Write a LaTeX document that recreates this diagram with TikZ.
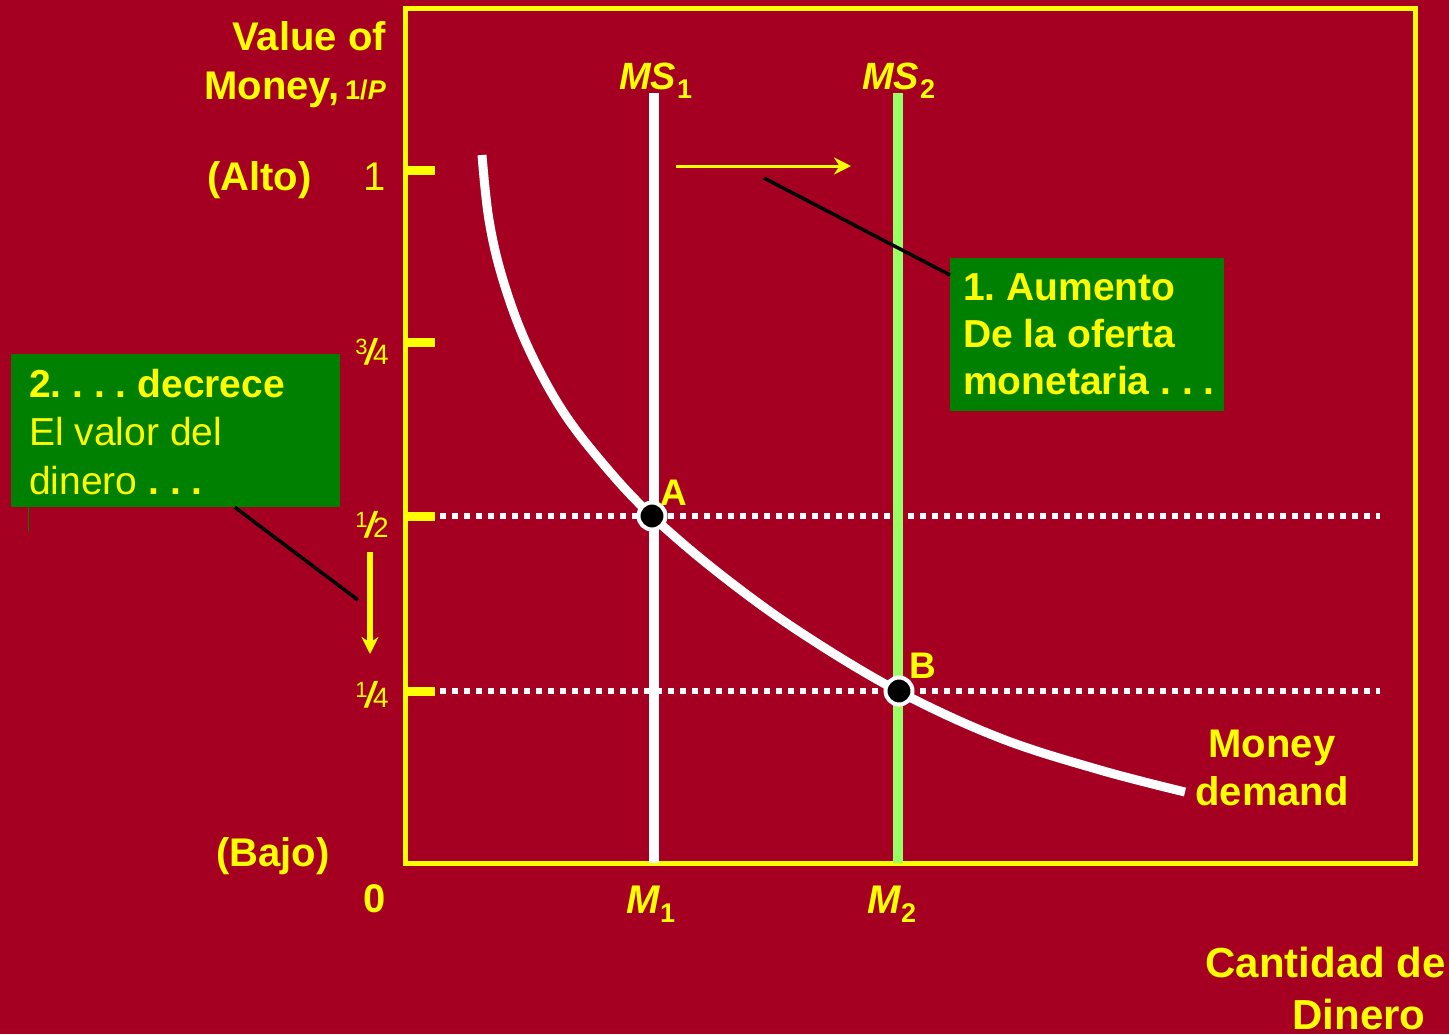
\documentclass[tikz,border=0pt]{standalone}
\usepackage{fontspec}
\setmainfont{Liberation Sans}
\usetikzlibrary{arrows.meta}
\definecolor{bg}{HTML}{A50021}
\definecolor{yel}{HTML}{FFFF00}
\definecolor{gbox}{HTML}{008000}
\definecolor{lgreen}{HTML}{99FF66}
\frenchspacing
\newcommand\fsz[2]{\fontsize{#1}{#2}\selectfont}
\newcommand\myfrac[2]{{\fsz{22}{22}\raisebox{10pt}{#1}}\kern-2pt{\fsz{36}{36}\bfseries\itshape/}\kern-2.5pt{\fsz{28}{28}#2}}
\begin{document}
\begin{tikzpicture}[x=1pt,y=-1pt,
  lbl/.style={text=yel,font=\fsz{40}{47}\bfseries,inner sep=0pt},
  lblr/.style={text=yel,font=\fsz{40}{48.5},inner sep=0pt},
  tick/.style={draw=yel,line width=9pt},
  dots/.style={draw=white,line width=6pt,dash pattern=on 6pt off 6pt},
  ptdot/.style={circle,fill=black,draw=white,line width=4pt,minimum size=27pt,inner sep=0pt},
  gbx/.style={fill=gbox,inner sep=0pt,anchor=north west},
  blk/.style={draw=black,line width=3.5pt},
  yarrow/.style={draw=yel,-{Stealth[length=17pt,width=17pt]}}]
\useasboundingbox[fill=bg] (0,0) rectangle (1449,1034);
% frame
\draw[yel,line width=5pt] (405,8) rectangle (1415,863);
% ticks
\foreach \yy in {170,342,516,691} \draw[tick] (405,\yy) -- (435,\yy);
% dotted lines
\coordinate (hA) at (440,516); \coordinate (hAe) at (1380,516);
\coordinate (hB) at (440,691); \coordinate (hBe) at (1380,691);
\draw[dots] (hA) -- (hAe);
\draw[dots] (hB) -- (hBe);
% supply lines
\coordinate (ms1t) at (654,93); \coordinate (ms1b) at (654,863);
\coordinate (ms2t) at (898,93); \coordinate (ms2b) at (898,863);
\draw[white,line width=10pt] (ms1t) -- (ms1b);
\draw[lgreen,line width=10pt] (ms2t) -- (ms2b);
% demand curve
\draw[white,line width=9pt] plot[smooth,tension=0.6] coordinates {(482,155) (489,220) (503,280) (527,345) (562,410) (605,466) (652,516) (720,574) (800,632) (898,691) (1000,738) (1100,770) (1185,792)};
% points
\node[ptdot] (A) at (652,516) {};
\node[ptdot] (B) at (899,691) {};
\node[lbl,font=\fsz{37}{37}\bfseries,anchor=base west] (Al) at (660,505) {A};
\node[lbl,font=\fsz{37}{37}\bfseries,anchor=base west] (Bl) at (909,678) {B};
% axis labels
\node[lbl,anchor=base east] (v1) at (386,50) {Value of};
\node[lbl,anchor=base east] (v2) at (386,99) {Money,\kern6pt{\fsz{27}{27}1/\textit{P}}};
\node[lbl,anchor=base west] (alto) at (207,190) {(Alto)};
\node[lblr,anchor=base] (one) at (375,190) {1};
\node[lbl,anchor=base west] (bajo) at (216,866) {(Bajo)};
\node[lbl,anchor=base] (zero) at (375,912) {0};
\node[text=yel,inner sep=0pt,anchor=base] (f34) at (372,364) {\myfrac{3}{4}};
\node[text=yel,inner sep=0pt,anchor=base] (f12) at (372,537) {\myfrac{1}{2}};
\node[text=yel,inner sep=0pt,anchor=base] (f14) at (372,707) {\myfrac{1}{4}};
\node[lbl,font=\fsz{38}{38}\bfseries,anchor=base west] (ms1) at (619,89) {\textit{MS}\kern1pt\raisebox{-9pt}{\fsz{27}{27}1}};
\node[lbl,font=\fsz{38}{38}\bfseries,anchor=base west] (ms2) at (862,89) {\textit{MS}\kern1pt\raisebox{-9pt}{\fsz{27}{27}2}};
\node[lbl,anchor=base west] (m1) at (626,913) {\textit{M}\kern0pt\raisebox{-9pt}{\fsz{27}{27}1}};
\node[lbl,anchor=base west] (m2) at (867,913) {\textit{M}\kern0pt\raisebox{-9pt}{\fsz{27}{27}2}};
\node[lbl,anchor=base] (md1) at (1272,757) {Money};
\node[lbl,anchor=base] (md2) at (1272,805) {demand};
\node[lbl,font=\fsz{42}{42}\bfseries,anchor=base east] (cd1) at (1446,977) {Cantidad de};
\node[lbl,font=\fsz{42}{42}\bfseries,anchor=base] (cd2) at (1359,1029) {Dinero};
% box 1
\node[gbx,minimum width=274pt,minimum height=153pt] (box1) at (950,258) {};
\node[lbl,font=\fsz{39}{47}\bfseries,anchor=base west,align=left] (t1) at (963,394) {1. Aumento\\De la oferta\\monetaria . . .};
\coordinate (c1) at (764,178);
\draw[blk] (c1) -- ([yshift=-17pt]box1.north west);
\coordinate (a1s) at (676,166); \coordinate (a1e) at (851,166);
\draw[yarrow,line width=3pt] (a1s) -- (a1e);
% box 2
\node[gbx,minimum width=329pt,minimum height=153pt] (box2) at (11,354) {};
\node[lblr,font=\fsz{39}{48.5},anchor=base west,align=left] (t2) at (29,494) {\textbf{2. . . . decrece}\\El valor del\\dinero \textbf{. . .}};
\draw[gbox,line width=1pt] ([xshift=17pt]box2.south west) -- ++(0,24);
\coordinate (c2) at (358,600);
\draw[blk] ([xshift=224pt]box2.south west) -- (c2);
\coordinate (a2s) at (370,552); \coordinate (a2e) at (370,654);
\draw[yarrow,line width=6pt] (a2s) -- (a2e);
\end{tikzpicture}
\end{document}
